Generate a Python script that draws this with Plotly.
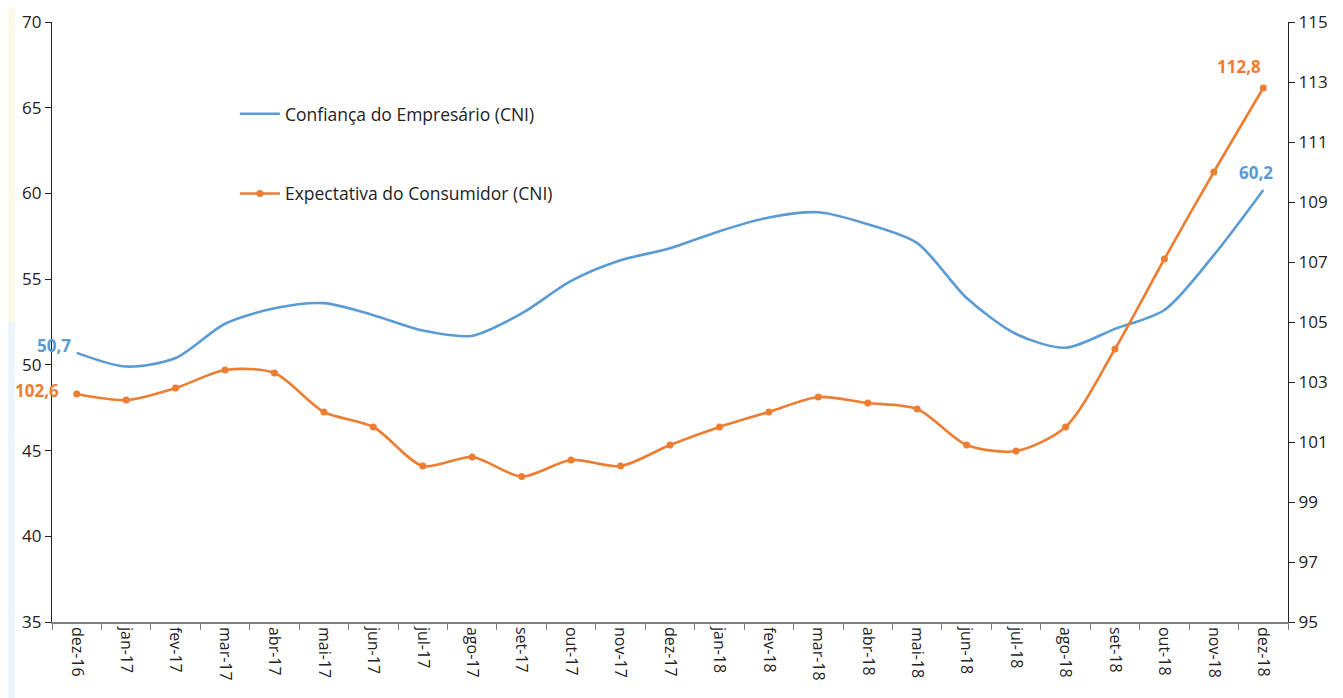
import plotly.graph_objects as go

months = ["dez-16", "jan-17", "fev-17", "mar-17", "abr-17", "mai-17", "jun-17", "jul-17",
          "ago-17", "set-17", "out-17", "nov-17", "dez-17", "jan-18", "fev-18", "mar-18",
          "abr-18", "mai-18", "jun-18", "jul-18", "ago-18", "set-18", "out-18", "nov-18", "dez-18"]

confianca_empresario = [50.7, 49.9, 50.4, 52.4, 53.3, 53.6, 52.9, 52.0, 51.7, 53.0, 54.9, 56.1,
                        56.8, 57.8, 58.6, 58.9, 58.2, 57.1, 53.9, 51.8, 51.0, 52.1, 53.2, 56.4, 60.2]

expectativa_consumidor = [102.6, 102.4, 102.8, 103.4, 103.3, 102.0, 101.5, 100.2, 100.5, 99.85,
                          100.4, 100.2, 100.9, 101.5, 102.0, 102.5, 102.3, 102.1, 100.9, 100.7,
                          101.5, 104.1, 107.1, 110.0, 112.8]

name_blue = "Confiança do Empresário (CNI)"
name_orange = "Expectativa do Consumidor (CNI)"

BLUE = "#5B9BD5"
ORANGE = "#ED7D31"
FONT = "Open Sans"

fig = go.Figure()
fig.add_trace(go.Scatter(
    x=months, y=confianca_empresario, name=name_blue, mode="lines",
    line=dict(color=BLUE, width=2.6, shape="spline", smoothing=0.8),
    legendgroup="a", yaxis="y"))
fig.add_trace(go.Scatter(
    x=months, y=expectativa_consumidor, name=name_orange, mode="lines+markers",
    line=dict(color=ORANGE, width=2.6, shape="spline", smoothing=0.8),
    marker=dict(color=ORANGE, size=7),
    legendgroup="b", yaxis="y2"))

def fmt(v):
    return f"{v:.1f}".replace(".", ",")

annotations = [
    dict(x=months[0], y=confianca_empresario[0], xref="x", yref="y", text=fmt(confianca_empresario[0]),
         showarrow=False, xanchor="right", yanchor="middle", xshift=-4, yshift=7,
         font=dict(color=BLUE, size=17, family=FONT, weight="bold")),
    dict(x=months[0], y=expectativa_consumidor[0], xref="x", yref="y2", text=fmt(expectativa_consumidor[0]),
         showarrow=False, xanchor="right", yanchor="middle", xshift=-16, yshift=4,
         font=dict(color=ORANGE, size=17, family=FONT, weight="bold")),
    dict(x=months[-1], y=confianca_empresario[-1], xref="x", yref="y", text=fmt(confianca_empresario[-1]),
         showarrow=False, xanchor="center", yanchor="bottom", xshift=-7, yshift=4,
         font=dict(color=BLUE, size=17, family=FONT, weight="bold")),
    dict(x=months[-1], y=expectativa_consumidor[-1], xref="x", yref="y2", text=fmt(expectativa_consumidor[-1]),
         showarrow=False, xanchor="center", yanchor="bottom", xshift=-24, yshift=8,
         font=dict(color=ORANGE, size=17, family=FONT, weight="bold")),
]

fig.update_layout(
    width=1343, height=698,
    margin=dict(l=44, r=63, t=14, b=84),
    paper_bgcolor="white", plot_bgcolor="white",
    font=dict(family=FONT, color="#222222", size=16),
    showlegend=True,
    legend=dict(x=0.148, y=0.877, xanchor="left", yanchor="top",
                bgcolor="rgba(0,0,0,0)", font=dict(size=17.5, family=FONT, color="#222222"),
                tracegroupgap=54, itemwidth=40),
    xaxis=dict(type="category", range=[-0.5, len(months) - 0.5], automargin=False,
               showgrid=False, showline=True, linecolor="#7f7f7f", linewidth=1.5,
               ticks="outside", tickson="boundaries", ticklen=6, tickcolor="#7f7f7f",
               ticklabeloverflow="allow",
               tickangle=90, tickfont=dict(size=16, family=FONT, color="#222222"), mirror=False),
    yaxis=dict(range=[35, 70], dtick=5, automargin=False, showgrid=False, showline=True,
               linecolor="#222222", linewidth=1.2, ticks="outside", ticklen=6, tickcolor="#222222",
               zeroline=False, ticklabeloverflow="allow",
               tickfont=dict(size=17, family=FONT, color="#222222")),
    yaxis2=dict(range=[95, 115], tick0=95, dtick=2, automargin=False, overlaying="y", side="right",
                showgrid=False, showline=True, linecolor="#222222", linewidth=1.2, ticks="outside",
                ticklen=6, tickcolor="#222222", zeroline=False, ticklabeloverflow="allow",
                tickfont=dict(size=17, family=FONT, color="#222222")),
    annotations=annotations,
    shapes=[
        dict(type="rect", xref="paper", yref="paper", x0=-0.0356, x1=-0.03, y0=0.5, y1=1.03,
             fillcolor="#FCF8EA", line=dict(width=0), layer="below"),
        dict(type="rect", xref="paper", yref="paper", x0=-0.0356, x1=-0.03, y0=-0.14, y1=0.5,
             fillcolor="#EEF5FA", line=dict(width=0), layer="below"),
    ],
)

fig.write_html("out.html")
